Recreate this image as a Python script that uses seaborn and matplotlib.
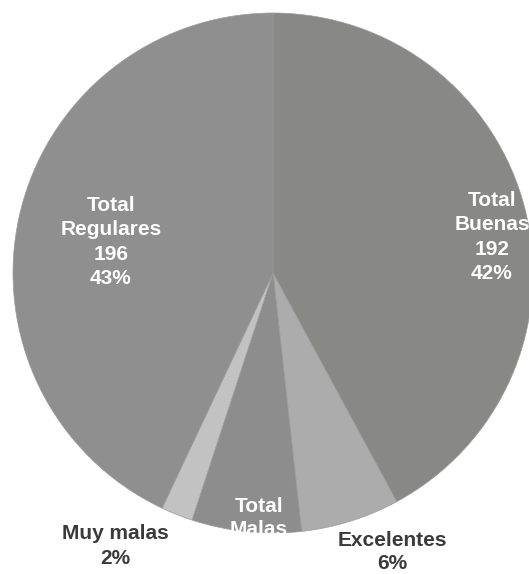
import matplotlib
matplotlib.use("Agg")
import matplotlib.pyplot as plt
import seaborn as sns

sns.set_theme(style="white")
plt.rcParams["font.family"] = ["Liberation Sans", "DejaVu Sans"]

# Encuesta: calificación de las respuestas (en sentido horario desde arriba)
categorias = ["Total Buenas", "Excelentes", "Total Malas", "Muy malas", "Total Regulares"]
valores = [192, 28, 31, 9, 196]
porcentajes = [42, 6, 7, 2, 43]
colores = ["#888887", "#acacac", "#8d8d8d", "#c2c2c2", "#8f8f8f"]

fig = plt.figure(figsize=(5.29, 5.74), dpi=100)
ax = fig.add_axes([0, 0, 1, 1])

wedges, _ = ax.pie(
    valores,
    colors=colores,
    startangle=90,
    counterclock=False,
    radius=1.0,
    wedgeprops=dict(linewidth=0.5, edgecolor="#9a9a9a"),
)

# Ventana de datos: centro del pastel en (273, 273) px, radio 260 px
escala = 260.0
ax.set_xlim(-273 / escala, (529 - 273) / escala)
ax.set_ylim(-(574 - 273) / escala, 273 / escala)
ax.set_aspect("equal")
ax.axis("off")


def px(x, y):
    return (x - 273) / escala, (273 - y) / escala


blanco = dict(color="white", fontsize=15, fontweight="bold", ha="center", linespacing=1.35)
oscuro = dict(color="#3a3a3a", fontsize=15, fontweight="bold", ha="center", linespacing=1.35)

ax.text(*px(492, 237), f"Total\nBuenas\n{valores[0]}\n{porcentajes[0]}%", va="center", **blanco)
ax.text(*px(111, 242), f"Total\nRegulares\n{valores[4]}\n{porcentajes[4]}%", va="center", **blanco)

# La etiqueta de "Total Malas" queda recortada por el borde de su sector
etiqueta_malas = ax.text(*px(259, 518), "Total\nMalas", va="center",
                         **{**blanco, "linespacing": 1.25})
etiqueta_malas.set_clip_path(wedges[2])

ax.text(*px(115, 546), f"Muy malas\n{porcentajes[3]}%", va="center", **oscuro)
ax.text(*px(392, 552), f"Excelentes\n{porcentajes[1]}%", va="center",
        **{**oscuro, "linespacing": 1.3})

fig.savefig("out.png", dpi=100, facecolor="white")
